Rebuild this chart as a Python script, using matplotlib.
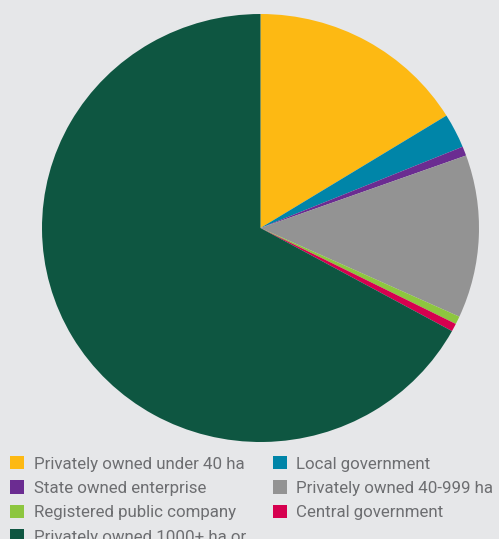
import matplotlib.pyplot as plt
from matplotlib.patches import Patch

labels = ["Privately owned under 40 ha", "Local government", "State owned enterprise",
          "Privately owned 40-999 ha", "Registered public company", "Central government",
          "Privately owned 1000+ ha or"]
shares = [16.2, 2.6, 0.7, 12.3, 0.6, 0.6, 67.0]
colors = ["#FDB913", "#0085A8", "#6B2C91", "#939393", "#8DC63F", "#D6004F", "#0E5641"]

bg = "#E6E7E9"
fig = plt.figure(figsize=(4.99, 5.39), dpi=100, facecolor=bg)
ax = fig.add_axes([42 / 499, 97 / 539, 437 / 499, 428 / 539])
ax.set_facecolor(bg)
ax.pie(shares, colors=colors, startangle=90, counterclock=False,
       wedgeprops=dict(linewidth=0))
ax.set_xlim(-1, 1)
ax.set_ylim(-1, 1)
ax.set_aspect('auto')
ax.axis('off')

# legend is laid out row by row in the original, matplotlib fills by column
order = [0, 2, 4, 6, 1, 3, 5]
handles = [Patch(facecolor=colors[i], edgecolor='none') for i in order]
fig.legend(handles, [labels[i] for i in order], ncol=2, frameon=False,
           loc='upper left', bbox_to_anchor=(0.0, 93 / 539),
           prop={'family': 'Roboto', 'size': 12.2}, labelcolor="#6D6E71",
           handlelength=0.83, handleheight=0.83, handletextpad=0.55,
           columnspacing=1.6, labelspacing=0.52, borderaxespad=0.2)

fig.savefig("out.png", dpi=100, facecolor=bg)
